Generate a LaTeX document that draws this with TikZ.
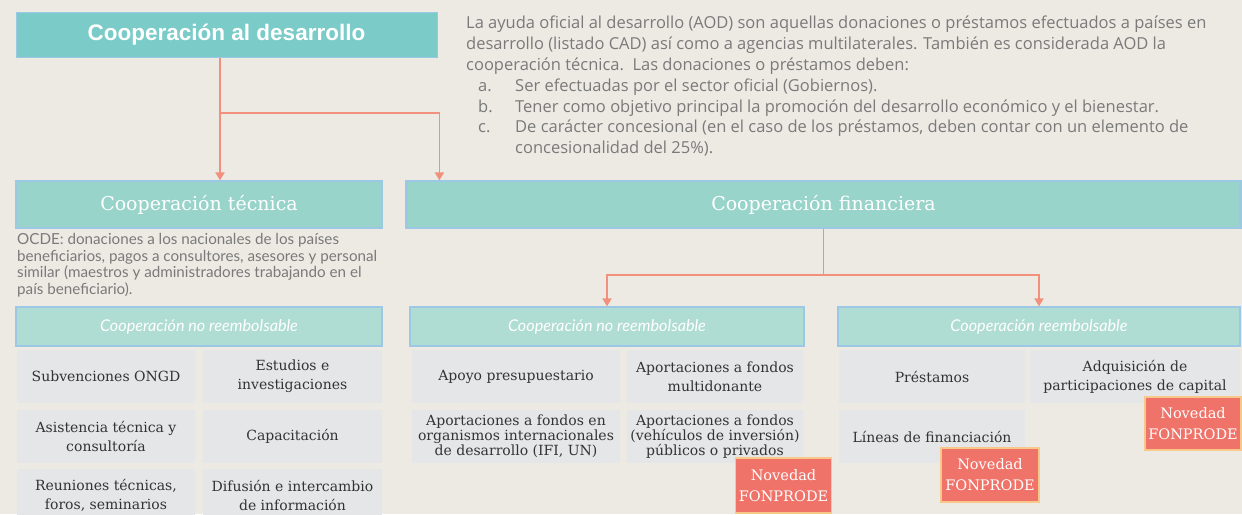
\documentclass[tikz,border=0pt]{standalone}
\usepackage{fontspec}
\setmainfont{DejaVu Serif}
\newfontfamily\titlefont{Liberation Sans}
\newfontfamily\notefont{Lato}
\newfontfamily\parafont{Open Sans}
\usetikzlibrary{arrows.meta, positioning, calc}

\definecolor{bgbeige}{HTML}{EDEAE4}
\definecolor{titlefill}{HTML}{7BCBC8}
\definecolor{headfill}{HTML}{98D4CA}
\definecolor{subfill}{HTML}{B0DDD3}
\definecolor{edgeblue}{HTML}{9CC8E6}
\definecolor{cellgray}{HTML}{E5E6E7}
\definecolor{coral}{HTML}{F2907E}
\definecolor{badgefill}{HTML}{EF7369}
\definecolor{badgeedge}{HTML}{F7C88A}
\definecolor{notegray}{HTML}{7A7A7A}
\definecolor{celltext}{HTML}{333333}

\begin{document}
\begin{tikzpicture}[
        x=1pt, y=-1pt,
        titlebox/.style={rectangle, draw=edgeblue, line width=1pt, fill=titlefill, minimum width=421pt, minimum height=45pt, text=white, font=\titlefont\bfseries\fontsize{22.5}{26}\selectfont},
        headbox/.style={rectangle, draw=edgeblue, line width=1.2pt, fill=headfill, minimum height=47pt, text=white, font=\fontsize{19}{23}\selectfont},
        subbox/.style={rectangle, draw=edgeblue, line width=1.2pt, fill=subfill, minimum height=39pt, text=white, font=\notefont\itshape\fontsize{16.2}{19}\selectfont},
        cell/.style={rectangle, fill=cellgray, minimum height=53pt, align=center, text=celltext, inner sep=1pt, font=\fontsize{14}{19}\selectfont},
        badge/.style={rectangle, draw=badgeedge, line width=1.2pt, fill=badgefill, align=center, text=white, font=\fontsize{14.5}{21}\selectfont},
        note/.style={align=left, text=notegray, inner sep=0pt},
        flow/.style={-{Triangle[width=9pt,length=8pt]}, draw=coral, line width=1.8pt}
    ]
        \useasboundingbox[fill=bgbeige] (0,0) rectangle (1242,514);

        % Top level
        \node[titlebox] (title) at (226.5,34.5) {Cooperación al desarrollo};
        \node[note, anchor=north west, font=\parafont\fontsize{16.5}{20.8}\selectfont] (aod) at (466,16) {%
            La ayuda oficial al desarrollo (AOD) son aquellas donaciones o préstamos efectuados a países en\\
            desarrollo (listado CAD) así como a agencias multilaterales. También es considerada AOD la\\
            cooperación técnica.\ \ Las donaciones o préstamos deben:\\
            \hspace*{12pt}\makebox[37pt][l]{a.}Ser efectuadas por el sector oficial (Gobiernos).\\
            \hspace*{12pt}\makebox[37pt][l]{b.}Tener como objetivo principal la promoción del desarrollo económico y el bienestar.\\
            \hspace*{12pt}\makebox[37pt][l]{c.}De carácter concesional (en el caso de los préstamos, deben contar con un elemento de\\
            \hspace*{49pt}concesionalidad del 25\%).};

        % Second level
        \node[headbox, minimum width=366pt] (tecnica) at (199,204.5) {Cooperación técnica};
        \node[headbox, minimum width=833pt] (financiera) at (823.5,204.5) {Cooperación financiera};
        \draw[edgeblue, line width=3pt] (financiera.north west) -- (financiera.south west);
        \draw[edgeblue, line width=3pt] (financiera.north east) -- (financiera.south east);

        \node[note, anchor=north west, font=\notefont\fontsize{15.2}{16.8}\selectfont] (ocde) at (17,233) {%
            OCDE: donaciones a los nacionales de los países\\
            beneficiarios, pagos a consultores, asesores y personal\\
            similar (maestros y administradores trabajando en el\\
            país beneficiario).};

        % Third level
        \node[subbox, minimum width=366pt] (nrtec) at (199,326.5) {Cooperación no reembolsable};
        \node[subbox, minimum width=394pt] (nrfin) at (607,326.5) {Cooperación no reembolsable};
        \node[subbox, minimum width=402pt] (reemb) at (1039,326.5) {Cooperación reembolsable};

        % Tecnica cells
        \node[cell, minimum width=178pt] (subv) at (106,376.5) {Subvenciones ONGD};
        \node[cell, minimum width=179pt] (estud) at (292.5,376.5) {Estudios e\\investigaciones};
        \node[cell, minimum width=178pt] (asist) at (106,436.5) {Asistencia técnica y\\consultoría};
        \node[cell, minimum width=179pt] (capac) at (292.5,436.5) {Capacitación};
        \node[cell, minimum width=178pt] (reun) at (106,495.5) {Reuniones técnicas,\\foros, seminarios};
        \node[cell, minimum width=179pt] (difus) at (292.5,495.5) {Difusión e intercambio\\de información};

        % No reembolsable cells
        \node[cell, minimum width=208pt] (apoyo) at (516,376.5) {Apoyo presupuestario};
        \node[cell, minimum width=176pt] (multi) at (715,376.5) {Aportaciones a fondos\\multidonante};
        \node[cell, minimum width=208pt, font=\fontsize{14}{15}\selectfont] (organ) at (516,436.5) {Aportaciones a fondos en\\organismos internacionales\\de desarrollo (IFI, UN)};
        \node[cell, minimum width=176pt, font=\fontsize{14}{15}\selectfont] (vehic) at (715,436.5) {Aportaciones a fondos\\(vehículos de inversión)\\públicos o privados};

        % Reembolsable cells
        \node[cell, minimum width=186pt] (prest) at (932,376.5) {Préstamos};
        \node[cell, minimum width=210pt] (adqui) at (1135,376.5) {Adquisición de\\participaciones de capital};
        \node[cell, minimum width=186pt] (lineas) at (932,436.5) {Líneas de financiación};

        % Badges
        \node[badge, minimum width=93pt, minimum height=55pt] (nov1) at (783.5,485.5) {Novedad\\FONPRODE};
        \node[badge, minimum width=98pt, minimum height=54pt] (nov2) at (990,475) {Novedad\\FONPRODE};
        \node[badge, minimum width=96pt, minimum height=53pt] (nov3) at (1193,423.5) {Novedad\\FONPRODE};

        % Arrows
        \coordinate (split) at (220,113);
        \coordinate (fsplit) at ($(financiera.south)+(0,46)$);
        \draw[flow] (title.south -| split) -- (tecnica.north -| split);
        \draw[flow] (split) -| ($(financiera.north west)+(33,0)$);
        \draw[coral, line width=1.8pt] (financiera.south) -- (fsplit);
        \draw[flow] (fsplit) -| (nrfin.north);
        \draw[flow] (fsplit) -| (reemb.north);

    \end{tikzpicture}
\end{document}
